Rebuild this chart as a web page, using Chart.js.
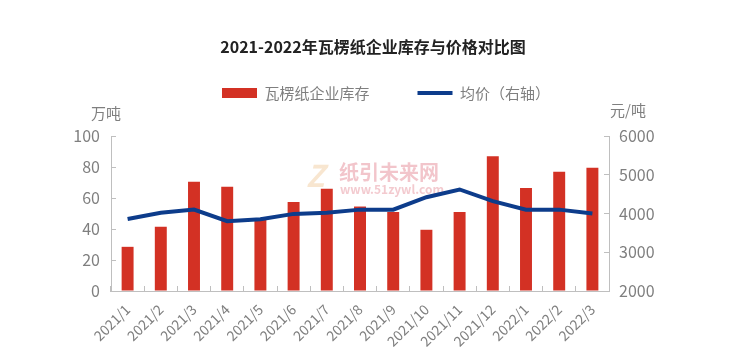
<!DOCTYPE html>
<html>
<head>
<meta charset="utf-8">
<script src="https://cdn.jsdelivr.net/npm/chart.js@4"></script>
<style>
  html, body { margin: 0; padding: 0; background: #fff; }
  #wrap { width: 746px; height: 362px; }
</style>
</head>
<body>
<div id="wrap"><canvas id="paperChart" width="746" height="362"></canvas></div>
<script>
const months = ["2021/1", "2021/2", "2021/3", "2021/4", "2021/5", "2021/6", "2021/7", "2021/8",
    "2021/9", "2021/10", "2021/11", "2021/12", "2022/1", "2022/2", "2022/3"];
// 瓦楞纸企业库存 (万吨)
const stock = [28.5, 41.5, 70.5, 67.3, 46, 57.5, 66, 54.5, 51, 39.5, 51, 87, 66.5, 77, 79.5];
// 均价 (元/吨)
const avgPrice = [3860, 4020, 4100, 3800, 3850, 3990, 4020, 4100, 4100, 4420, 4620, 4320, 4100, 4100, 4000];
const leftTicks = [0, 20, 40, 60, 80, 100];
const rightTicks = [2000, 3000, 4000, 5000, 6000];

const gray = '#7f7f7f';
const axisGray = '#bfbfbf';
const cjk = '"Noto Sans CJK SC", "Noto Sans", sans-serif';

// unit labels above the two y axes + the faint watermark
const extras = {
    id: 'extras',
    afterLayout(chart) {
        // nudge the centred legend a little to the right, like the original
        chart.legend.left += 13;
        chart.legend.right += 13;
    },
    beforeDatasetsDraw(chart) {
        const ctx = chart.ctx;
        ctx.save();
        ctx.textAlign = 'left';
        ctx.textBaseline = 'middle';
        ctx.font = 'italic bold 30px ' + cjk;
        ctx.fillStyle = 'rgba(240, 200, 150, 0.45)';
        ctx.fillText('Z', 306, 176);
        ctx.font = 'bold 20px ' + cjk;
        ctx.fillStyle = 'rgba(232, 150, 160, 0.55)';
        ctx.fillText('纸引未来网', 339, 172);
        ctx.font = 'bold 12px ' + cjk;
        ctx.fillStyle = 'rgba(232, 150, 160, 0.5)';
        ctx.fillText('www.51zywl.com', 340, 189);
        ctx.restore();
    },
    afterDraw(chart) {
        const ctx = chart.ctx;
        const yl = chart.scales.y;
        const yr = chart.scales.y1;
        ctx.save();
        ctx.fillStyle = gray;
        ctx.font = '15px ' + cjk;
        ctx.textBaseline = 'middle';
        ctx.textAlign = 'center';
        ctx.fillText('万吨', yl.right - 5, chart.chartArea.top - 23);
        ctx.fillText('元/吨', yr.left + 19, chart.chartArea.top - 26);
        ctx.restore();
    }
};

new Chart("paperChart", {
    data: {
        labels: months,
        datasets: [{
            type: 'bar',
            label: '瓦楞纸企业库存',
            data: stock,
            backgroundColor: '#d33124',
            barPercentage: 0.36,
            categoryPercentage: 1,
            pointStyle: 'rect',
            yAxisID: 'y',
            order: 2
        }, {
            type: 'line',
            label: '均价（右轴）',
            data: avgPrice,
            borderColor: '#0d3c8b',
            backgroundColor: '#0d3c8b',
            borderWidth: 4,
            pointRadius: 0,
            pointStyle: 'line',
            tension: 0,
            yAxisID: 'y1',
            order: 1
        }]
    },
    options: {
        responsive: false,
        animation: false,
        layout: { padding: 0 },
        plugins: {
            title: {
                display: true,
                text: '2021-2022年瓦楞纸企业库存与价格对比图',
                color: '#222',
                font: { size: 16, weight: 'bold', family: cjk, lineHeight: 1.2 },
                padding: { top: 37.4, bottom: -19.1 }
            },
            subtitle: {
                // spacer between legend and plot area
                display: true,
                text: ' ',
                weight: 500,
                font: { size: 1, lineHeight: 1 },
                padding: { top: 24.5, bottom: 0 }
            },
            legend: {
                display: true,
                labels: {
                    usePointStyle: true,
                    pointStyleWidth: 35,
                    boxWidth: 35,
                    boxHeight: 10,
                    padding: 48,
                    color: gray,
                    font: { size: 15, family: cjk },
                    sort: (a, b) => a.datasetIndex - b.datasetIndex
                }
            },
            tooltip: { enabled: false }
        },
        scales: {
            x: {
                afterFit(scale) { scale.height = 71; },
                grid: {
                    drawOnChartArea: false,
                    drawTicks: true,
                    tickLength: -5,
                    color: axisGray
                },
                border: { display: true, color: axisGray, width: 1 },
                ticks: {
                    minRotation: 45,
                    maxRotation: 45,
                    padding: 15,
                    autoSkip: false,
                    color: gray,
                    font: { size: 14, family: cjk }
                }
            },
            y: {
                position: 'left',
                min: 0,
                max: 100,
                afterFit(scale) { scale.width = 111; },
                afterBuildTicks(scale) { scale.ticks = leftTicks.map(v => ({ value: v })); },
                grid: {
                    drawOnChartArea: false,
                    drawTicks: true,
                    tickLength: -5,
                    color: axisGray
                },
                border: { display: true, color: axisGray, width: 1 },
                ticks: {
                    padding: 16,
                    color: gray,
                    font: { size: 16, family: cjk },
                    callback: v => String(v)
                }
            },
            y1: {
                position: 'right',
                min: 2000,
                max: 6000,
                afterFit(scale) { scale.width = 137; },
                afterBuildTicks(scale) { scale.ticks = rightTicks.map(v => ({ value: v })); },
                grid: {
                    drawOnChartArea: false,
                    drawTicks: true,
                    tickLength: -5,
                    color: axisGray
                },
                border: { display: true, color: axisGray, width: 1 },
                ticks: {
                    padding: 15,
                    color: gray,
                    font: { size: 16, family: cjk },
                    callback: v => String(v)
                }
            }
        }
    },
    plugins: [extras]
});
</script>
</body>
</html>
